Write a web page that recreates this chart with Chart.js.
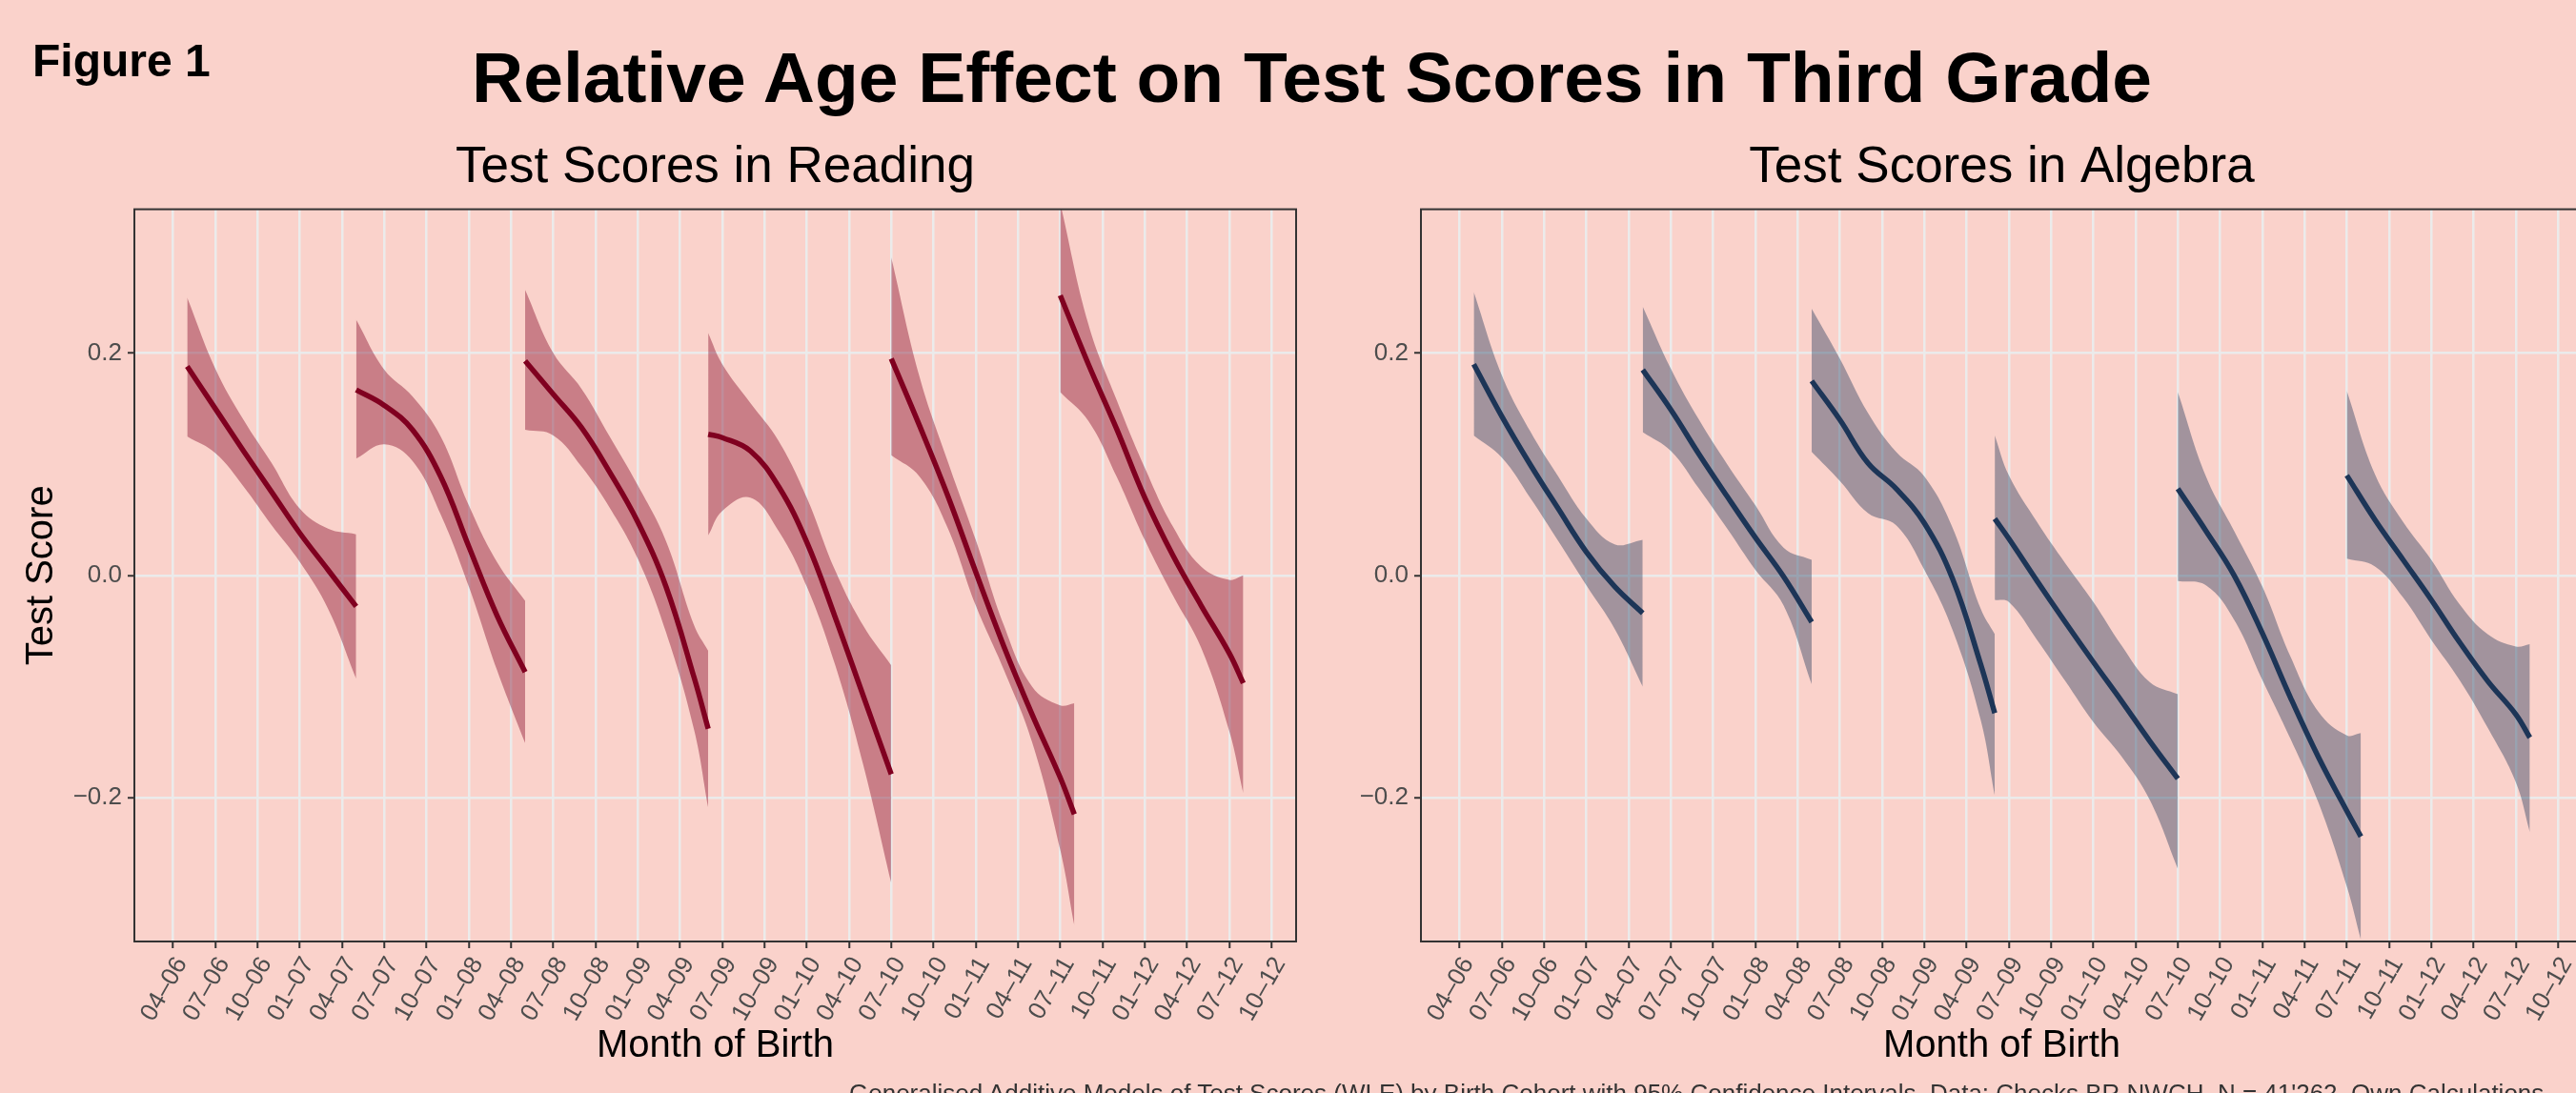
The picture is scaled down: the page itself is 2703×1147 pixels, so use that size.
<!DOCTYPE html>
<html>
<head>
<meta charset="utf-8">
<script src="https://cdn.jsdelivr.net/npm/chart.js@4.4.1/dist/chart.umd.min.js"></script>
<style>
  html, body { margin: 0; padding: 0; }
  body {
    width: 2703px; height: 1147px; overflow: hidden; position: relative;
    background: #FAD2CB;
    font-family: 'Liberation Sans', Arial, Helvetica, sans-serif;
  }
  canvas { position: absolute; top: 0; }
  #reading { left: 0; }
  #algebra { left: 1350px; }
  .txt { position: absolute; white-space: nowrap; color: #000; }
  #fig { left: 34px; top: 40px; font-size: 48px; line-height: 48px; font-weight: bold; }
  #main { left: 0; width: 2753px; text-align: center; top: 44px; font-size: 75px; line-height: 74px; font-weight: bold; }
  #caption { left: 891px; top: 1134px; font-size: 26px; line-height: 26px; color: #333; }
</style>
</head>
<body>
<canvas id="reading" width="1380" height="1147"></canvas>
<canvas id="algebra" width="1380" height="1147"></canvas>
<div class="txt" id="fig">Figure 1</div>
<div class="txt" id="main">Relative Age Effect on Test Scores in Third Grade</div>
<div class="txt" id="caption">Generalised Additive Models of Test Scores (WLE) by Birth Cohort with 95% Confidence Intervals. Data: Checks BR NWCH, N = 41'262, Own Calculations</div>
<script>
// month index: 0 = Jan 2006
var tickLabels = ['04–06','07–06','10–06','01–07','04–07','07–07','10–07','01–08','04–08',
  '07–08','10–08','01–09','04–09','07–09','10–09','01–10','04–10','07–10','10–10',
  '01–11','04–11','07–11','10–11','01–12','04–12','07–12','10–12'];
var tickMonths = tickLabels.map(function (_, i) { return 3 + 3 * i; });

var yTickValues = [-0.2, 0, 0.2];
var yTickLabels = ['−0.2', '0.0', '0.2'];

// birth cohorts (months where the fit was read)
var cohortMonths = [
  [4, 6, 8, 10, 12, 14, 16],
  [16, 18, 20, 22, 24, 26, 28],
  [28, 30, 32, 34, 36, 38, 40, 41],
  [41, 42, 44, 46, 48, 50, 52, 54],
  [54, 56, 58, 60, 62, 64, 66, 67],
  [66, 68, 70, 72, 74, 76, 78, 79]
];

var readingFit = [
  [0.188, 0.150, 0.112, 0.075, 0.038, 0.005, -0.028],
  [0.167, 0.153, 0.131, 0.089, 0.026, -0.036, -0.087],
  [0.193, 0.163, 0.133, 0.093, 0.048, -0.010, -0.092, -0.138],
  [0.127, 0.124, 0.112, 0.080, 0.030, -0.037, -0.108, -0.179],
  [0.195, 0.135, 0.072, 0.003, -0.064, -0.125, -0.182, -0.215],
  [0.252, 0.190, 0.132, 0.070, 0.018, -0.027, -0.070, -0.097]
];
var readingUpper = [
  [0.250, 0.186, 0.140, 0.101, 0.060, 0.042, 0.037],
  [0.230, 0.185, 0.161, 0.125, 0.063, 0.012, -0.023],
  [0.257, 0.200, 0.168, 0.125, 0.081, 0.031, -0.045, -0.068],
  [0.218, 0.190, 0.155, 0.121, 0.070, 0.005, -0.045, -0.081],
  [0.286, 0.179, 0.103, 0.032, -0.045, -0.100, -0.117, -0.115],
  [0.335, 0.226, 0.158, 0.097, 0.044, 0.008, -0.004, 0.000]
];
var readingLower = [
  [0.125, 0.110, 0.080, 0.045, 0.012, -0.030, -0.093],
  [0.105, 0.118, 0.103, 0.055, -0.010, -0.085, -0.151],
  [0.131, 0.126, 0.098, 0.061, 0.015, -0.051, -0.139, -0.209],
  [0.036, 0.058, 0.070, 0.040, -0.010, -0.080, -0.170, -0.277],
  [0.108, 0.089, 0.043, -0.027, -0.085, -0.150, -0.247, -0.315],
  [0.165, 0.139, 0.089, 0.032, -0.018, -0.065, -0.140, -0.196]
];

var algebraFit = [
  [0.190, 0.143, 0.100, 0.060, 0.021, -0.010, -0.034],
  [0.185, 0.149, 0.109, 0.071, 0.034, -0.001, -0.042],
  [0.175, 0.140, 0.101, 0.078, 0.047, -0.003, -0.080, -0.124],
  [0.051, 0.033, -0.005, -0.042, -0.078, -0.113, -0.149, -0.183],
  [0.078, 0.040, 0.000, -0.052, -0.110, -0.164, -0.212, -0.235],
  [0.090, 0.050, 0.014, -0.022, -0.060, -0.095, -0.125, -0.146]
];
var algebraUpper = [
  [0.255, 0.180, 0.130, 0.089, 0.051, 0.028, 0.032],
  [0.242, 0.186, 0.140, 0.100, 0.063, 0.025, 0.014],
  [0.240, 0.195, 0.146, 0.111, 0.089, 0.043, -0.030, -0.053],
  [0.126, 0.090, 0.048, 0.011, -0.024, -0.063, -0.096, -0.107],
  [0.165, 0.089, 0.040, -0.010, -0.073, -0.123, -0.144, -0.142],
  [0.166, 0.091, 0.048, 0.014, -0.026, -0.053, -0.064, -0.062]
];
var algebraLower = [
  [0.126, 0.106, 0.070, 0.031, -0.009, -0.048, -0.100],
  [0.129, 0.112, 0.078, 0.042, 0.005, -0.027, -0.098],
  [0.111, 0.085, 0.056, 0.045, 0.005, -0.049, -0.130, -0.198],
  [-0.022, -0.024, -0.058, -0.095, -0.132, -0.163, -0.202, -0.264],
  [-0.005, -0.009, -0.040, -0.094, -0.147, -0.205, -0.280, -0.328],
  [0.015, 0.008, -0.020, -0.058, -0.094, -0.137, -0.186, -0.231]
];

Chart.defaults.font.family = "'Liberation Sans', Arial, Helvetica, sans-serif";
Chart.defaults.color = '#4D4D4D';

// ggplot-like box round the panel
var panelBorder = {
  id: 'panelBorder',
  afterDatasetsDraw: function (chart) {
    var a = chart.chartArea, ctx = chart.ctx;
    ctx.save();
    ctx.strokeStyle = '#333333';
    ctx.lineWidth = 2;
    ctx.strokeRect(a.left, a.top, a.right - a.left, a.bottom - a.top);
    ctx.restore();
  }
};

function buildDatasets(fit, upper, lower, lineColor, bandColor) {
  var sets = [];
  cohortMonths.forEach(function (months, c) {
    function pts(arr) {
      return months.map(function (m, i) { return { x: m, y: arr[c][i] }; });
    }
    sets.push({ data: pts(upper), fill: '+1', backgroundColor: bandColor,
      borderColor: 'transparent', borderWidth: 0, order: 2 });
    sets.push({ data: pts(lower), fill: false, borderColor: 'transparent', borderWidth: 0, order: 2 });
    sets.push({ data: pts(fit), fill: false, borderColor: lineColor, borderWidth: 5.5, order: 1 });
  });
  return sets;
}

function makeOptions(title, showYTitle) {
  var grid = { color: '#EBEBEB', lineWidth: 2.5, tickColor: '#333333', tickWidth: 2, tickLength: 7 };
  return {
    responsive: false,
    animation: false,
    events: [],
    layout: { padding: { left: 0, right: 20, top: 0, bottom: 0 } },
    elements: {
      point: { radius: 0 },
      line: { tension: 0.4, borderCapStyle: 'butt' }
    },
    plugins: {
      legend: { display: false },
      tooltip: { enabled: false },
      title: {
        display: true, text: title, color: '#000', fullSize: false,
        font: { size: 53, weight: 'normal' },
        padding: { top: 145, bottom: 11 }
      }
    },
    scales: {
      x: {
        type: 'linear', min: 0.25, max: 82.75,
        afterBuildTicks: function (s) { s.ticks = tickMonths.map(function (v) { return { value: v }; }); },
        afterFit: function (s) { s.height = 159; },
        ticks: {
          autoSkip: false, minRotation: 60, maxRotation: 60, padding: 4, labelOffset: 9,
          font: { size: 26 }, color: '#4D4D4D',
          callback: function (v, i) { return tickLabels[i]; }
        },
        grid: grid,
        border: { display: false },
        title: { display: true, text: 'Month of Birth', color: '#000', font: { size: 40 }, padding: { top: 0, bottom: 25 } }
      },
      y: {
        min: -0.3295, max: 0.3295,
        afterBuildTicks: function (s) { s.ticks = yTickValues.map(function (v) { return { value: v }; }); },
        afterFit: function (s) { s.width = 141; },
        ticks: {
          padding: 6, font: { size: 26 }, color: '#4D4D4D',
          callback: function (v, i) { return yTickLabels[i]; }
        },
        grid: grid,
        border: { display: false },
        title: { display: showYTitle, text: 'Test Score', color: '#000', font: { size: 40 }, padding: { top: 20, bottom: 0 } }
      }
    }
  };
}

new Chart(document.getElementById('reading'), {
  type: 'line',
  data: { datasets: buildDatasets(readingFit, readingUpper, readingLower, '#800020', 'rgba(128, 0, 32, 0.4)') },
  options: makeOptions('Test Scores in Reading', true),
  plugins: [panelBorder]
});

new Chart(document.getElementById('algebra'), {
  type: 'line',
  data: { datasets: buildDatasets(algebraFit, algebraUpper, algebraLower, '#1D3557', 'rgba(29, 53, 87, 0.4)') },
  options: makeOptions('Test Scores in Algebra', false),
  plugins: [panelBorder]
});
</script>
</body>
</html>
